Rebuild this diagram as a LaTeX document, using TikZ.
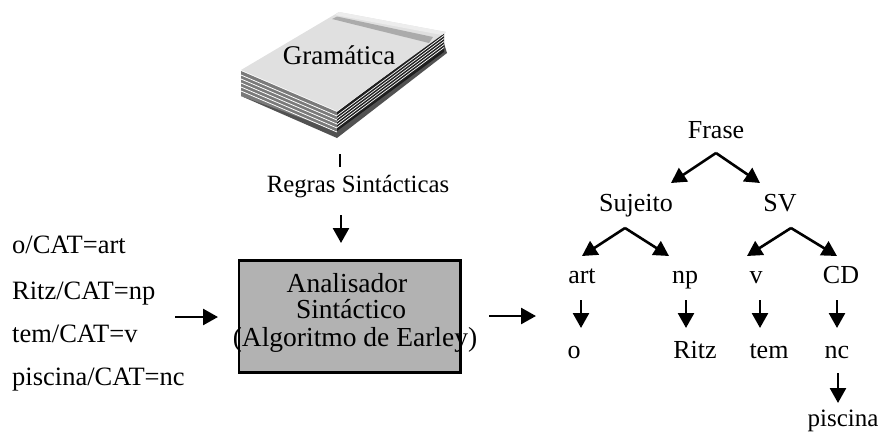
\documentclass[tikz,border=0pt]{standalone}
\usepackage{fontspec}
\setmainfont{Liberation Serif}
\usetikzlibrary{arrows.meta}
\tikzset{
  x=1pt,y=-1pt,
  lbl/.style={inner sep=0pt,anchor=base,font=\fontsize{26}{28}\selectfont,text=black},
  linput/.style={lbl,anchor=base west,font=\fontsize{26.5}{28}\selectfont},
  boxtext/.style={lbl,font=\fontsize{27.5}{30}\selectfont},
  flow/.style={line width=2.6pt,-{Triangle[length=15pt,width=16pt]}},
}
\definecolor{boxgray}{HTML}{B2B2B2}
\begin{document}
\begin{tikzpicture}
\useasboundingbox (0,0) rectangle (886,432);

% Book: back board, page block, cover
\fill[black!68] (241,96) -- (337,138) -- (447,53) -- (443,40) -- (337,125) -- cycle;
\fill[black!52] (241,71) -- (337,112) -- (337,131) -- (241,96) -- cycle;
\fill[black!88] (337,112) -- (444,32) -- (444,52) -- (337,131) -- cycle;
\foreach \d in {4,8,12,16,20}{
  \draw[white,line width=0.8pt] (241,71+\d) -- (337,112+\d);
}
\foreach \d in {3.5,6.5,9.5,12.5,15.5}{
  \draw[white,line width=0.7pt] (337,112+\d) -- (444,32+\d);
}
\fill[black!12] (241,70) -- (339,12) -- (446,32) -- (337,111) -- cycle;
\fill[black!33] (332,19) -- (337,16.5) -- (433,37) -- (429,43) -- cycle;
\fill[black!7] (339,12) -- (446,32) -- (442,35) -- (335,15) -- cycle;

\node[lbl,font=\fontsize{27}{29}\selectfont] (gram) at (339,64) {Gramática};
\node[lbl,font=\fontsize{24.8}{27}\selectfont] (regras) at (358,192) {Regras Sintácticas};
\coordinate (tickA) at (340,154);
\coordinate (tickB) at (340,167);
\draw[line width=2.4pt] (tickA) -- (tickB);

% Analyser block
\node[draw=black,line width=2.7pt,fill=boxgray,minimum width=221.5pt,minimum height=112pt,inner sep=0pt] (an) at (349.6,316.4) {};
\node[boxtext] (an1) at (347,292) {Analisador};
\node[boxtext] (an2) at (351,318) {Sintáctico};
\node[boxtext] (an3) at (355,346) {(Algoritmo de Earley)};

% Word/category input list
\node[linput] (i1) at (12,253) {o/CAT=art};
\node[linput] (i2) at (12,299) {Ritz/CAT=np};
\node[linput] (i3) at (12,342) {tem/CAT=v};
\node[linput] (i4) at (12,385) {piscina/CAT=nc};

% Flow arrows around the analyser
\coordinate (inL) at (175,317);
\coordinate (inR) at (218,317);
\coordinate (outL) at (489,316);
\coordinate (outR) at (536,316);
\coordinate (topA) at (341,215);
\coordinate (topB) at (341,243);
\draw[flow] (inL) -- (inR);
\draw[flow] (outL) -- (outR);
\draw[flow] (topA) -- (topB);

% Parse tree labels
\node[lbl] (frase) at (716,138) {Frase};
\node[lbl] (suj) at (636,211) {Sujeito};
\node[lbl] (sv) at (780,211) {SV};
\node[lbl] (art) at (582,283) {art};
\node[lbl] (np) at (685,283) {np};
\node[lbl] (v) at (756,283) {v};
\node[lbl] (cd) at (841,283) {CD};
\node[lbl] (wo) at (574,358) {o};
\node[lbl] (wr) at (695,358) {Ritz};
\node[lbl] (wt) at (769,358) {tem};
\node[lbl] (nc) at (837,358) {nc};
\node[lbl,font=\fontsize{25}{27}\selectfont] (wp) at (843,426) {piscina};

% Branch points and arrow ends of the tree
\coordinate (fA) at (716,153);
\coordinate (fL) at (671,183);
\coordinate (fR) at (760,183);
\coordinate (sA) at (625,228);
\coordinate (sL) at (582,256);
\coordinate (sR) at (669,256);
\coordinate (vA) at (791,228);
\coordinate (vL) at (747,256);
\coordinate (vR) at (837,256);
\draw[flow] (fA) -- (fL);
\draw[flow] (fA) -- (fR);
\draw[flow] (sA) -- (sL);
\draw[flow] (sA) -- (sR);
\draw[flow] (vA) -- (vL);
\draw[flow] (vA) -- (vR);

\coordinate (a1) at (581,300);
\coordinate (b1) at (581,328);
\coordinate (a2) at (686,300);
\coordinate (b2) at (686,328);
\coordinate (a3) at (760,300);
\coordinate (b3) at (760,328);
\coordinate (a4) at (837,300);
\coordinate (b4) at (837,328);
\coordinate (a5) at (838,373);
\coordinate (b5) at (838,403);
\draw[flow] (a1) -- (b1);
\draw[flow] (a2) -- (b2);
\draw[flow] (a3) -- (b3);
\draw[flow] (a4) -- (b4);
\draw[flow] (a5) -- (b5);
\end{tikzpicture}
\end{document}
